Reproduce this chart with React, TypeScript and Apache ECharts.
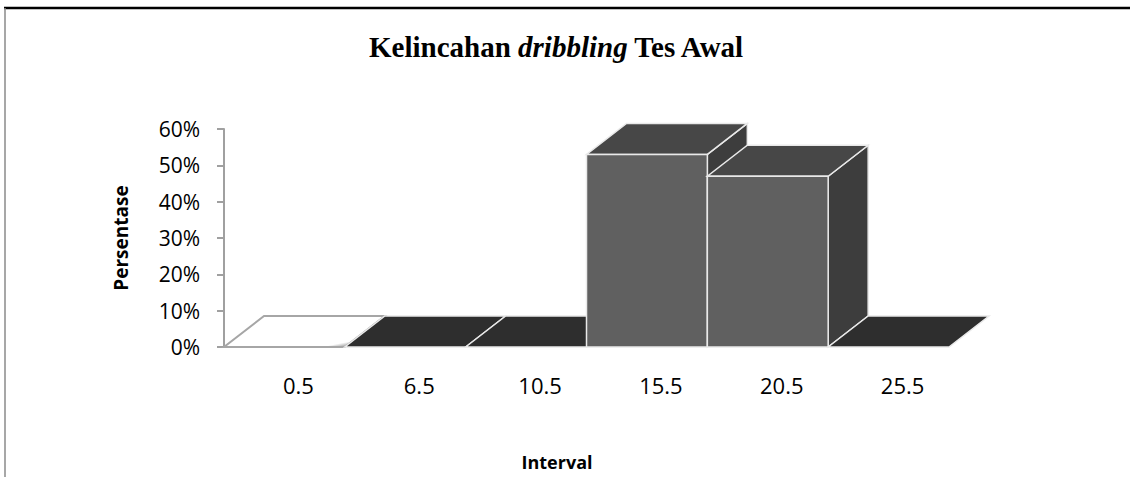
import React, { useEffect, useRef } from "react";
import * as echarts from "echarts";

// ---- data ----
const categories: string[] = ["0.5", "6.5", "10.5", "15.5", "20.5", "25.5"];
const percentages: number[] = [0, 0, 0, 53, 47, 0];
const yMin = 0;
const yMax = 60;
const yStep = 10;

const titleText = "Kelincahan {i|dribbling} Tes Awal";
const xAxisName = "Interval";
const yAxisName = "Persentase";

const LABEL_FONT = "'Open Sans', 'Noto Sans', sans-serif";
const TITLE_FONT = "'Liberation Serif', 'DejaVu Serif', serif";

export default function App() {
  const ref = useRef<HTMLDivElement>(null);

  useEffect(() => {
    if (!ref.current) return;
    const chart = echarts.init(ref.current, undefined, { renderer: "svg" });

    const DX = 40;
    const DY = -31;

    const whiteFloor = new echarts.graphic.LinearGradient(0, 0, 1, 1, [
      { offset: 0, color: "#ffffff" },
      { offset: 0.8, color: "#ffffff" },
      { offset: 0.9, color: "#7a7a7a" },
      { offset: 1, color: "#5a5a5a" },
    ]);

    const renderItem = (params: any, api: any) => {
      const cat = api.value(0);
      const v = api.value(1);
      const [xc, yTop] = api.coord([cat, v]);
      const yBase = api.coord([cat, 0])[1];
      const w = api.size([1, 0])[0];
      const x0 = xc - w / 2;
      const x1 = xc + w / 2;
      const first = params.dataIndex === 0;
      const edge = first ? "#a6a6a6" : "#e9e9e9";
      const children: any[] = [];
      if (v > 0) {
        children.push({
          type: "polygon",
          shape: {
            points: [
              [x1, yTop],
              [x1 + DX, yTop + DY],
              [x1 + DX, yBase + DY],
              [x1, yBase],
            ],
          },
          style: { fill: "#3d3d3d", stroke: edge, lineWidth: 1.5 },
        });
      }
      children.push({
        type: "polygon",
        shape: {
          points: [
            [x0, yTop],
            [x1, yTop],
            [x1 + DX, yTop + DY],
            [x0 + DX, yTop + DY],
          ],
        },
        style: {
          fill: first ? whiteFloor : v > 0 ? "#474747" : "#2e2e2e",
          stroke: edge,
          lineWidth: first ? 2 : 1.5,
        },
      });
      if (v > 0) {
        children.push({
          type: "rect",
          shape: { x: x0, y: yTop, width: w, height: yBase - yTop },
          style: { fill: "#606060", stroke: edge, lineWidth: 1.5 },
        });
      }
      return { type: "group", children };
    };

    const option: any = {
      animation: false,
      backgroundColor: "#ffffff",
      title: {
        text: titleText,
        left: 364,
        top: 27,
        padding: 5,
        textStyle: {
          fontFamily: TITLE_FONT,
          fontWeight: "bold",
          fontSize: 29,
          color: "#000",
          rich: {
            i: {
              fontFamily: TITLE_FONT,
              fontStyle: "italic",
              fontWeight: "bold",
              fontSize: 29,
              color: "#000",
            },
          },
        },
      },
      grid: [
        { left: 224, right: 181, top: 129, height: 218, containLabel: false },
        { left: 238, right: 167, top: 129, height: 218, containLabel: false },
      ],
      xAxis: [
        {
          type: "category",
          gridIndex: 0,
          data: categories,
          boundaryGap: true,
          axisLine: { show: false },
          axisTick: { show: false },
          axisLabel: { show: false },
          splitLine: { show: false },
          name: xAxisName,
          nameLocation: "middle",
          nameGap: 106,
          nameTextStyle: {
            fontFamily: LABEL_FONT,
            fontWeight: "bold",
            fontSize: 18,
            color: "#000",
            padding: [0, 59, 0, 0],
          },
        },
        {
          type: "category",
          gridIndex: 1,
          data: categories,
          boundaryGap: true,
          axisLine: { show: false },
          axisTick: { show: false },
          splitLine: { show: false },
          axisLabel: {
            show: true,
            margin: 27,
            fontFamily: LABEL_FONT,
            fontSize: 22,
            color: "#000",
          },
        },
      ],
      yAxis: [
        {
          type: "value",
          gridIndex: 0,
          min: yMin,
          max: yMax,
          interval: yStep,
          axisLine: { show: true, lineStyle: { color: "#a0a0a0", width: 2 } },
          axisTick: { show: true, length: 7, lineStyle: { color: "#a0a0a0", width: 2 } },
          splitLine: { show: false },
          axisLabel: {
            margin: 24,
            fontFamily: LABEL_FONT,
            fontSize: 21,
            color: "#000",
            formatter: "{value}%",
          },
          name: yAxisName,
          nameLocation: "middle",
          nameGap: 94,
          nameRotate: 90,
          nameTextStyle: {
            fontFamily: LABEL_FONT,
            fontWeight: "bold",
            fontSize: 19,
            color: "#000",
          },
        },
        {
          type: "value",
          gridIndex: 1,
          min: yMin,
          max: yMax,
          interval: yStep,
          show: false,
        },
      ],
      series: [
        {
          type: "custom",
          xAxisIndex: 0,
          yAxisIndex: 0,
          clip: false,
          renderItem,
          encode: { x: 0, y: 1 },
          data: percentages.map((p, i) => [i, p]),
        },
      ],
      graphic: [
        {
          type: "line",
          shape: { x1: 4, y1: 8, x2: 1130, y2: 8 },
          style: { stroke: "#000", lineWidth: 2.5 },
          silent: true,
        },
        {
          type: "line",
          shape: { x1: 5, y1: 8, x2: 5, y2: 477 },
          style: { stroke: "#8a8a8a", lineWidth: 1.5 },
          silent: true,
        },
      ],
    };

    chart.setOption(option);
    return () => chart.dispose();
  }, []);

  return (
    <div
      ref={ref}
      style={{ position: "fixed", left: 0, top: 0, width: 1130, height: 477 }}
    />
  );
}
